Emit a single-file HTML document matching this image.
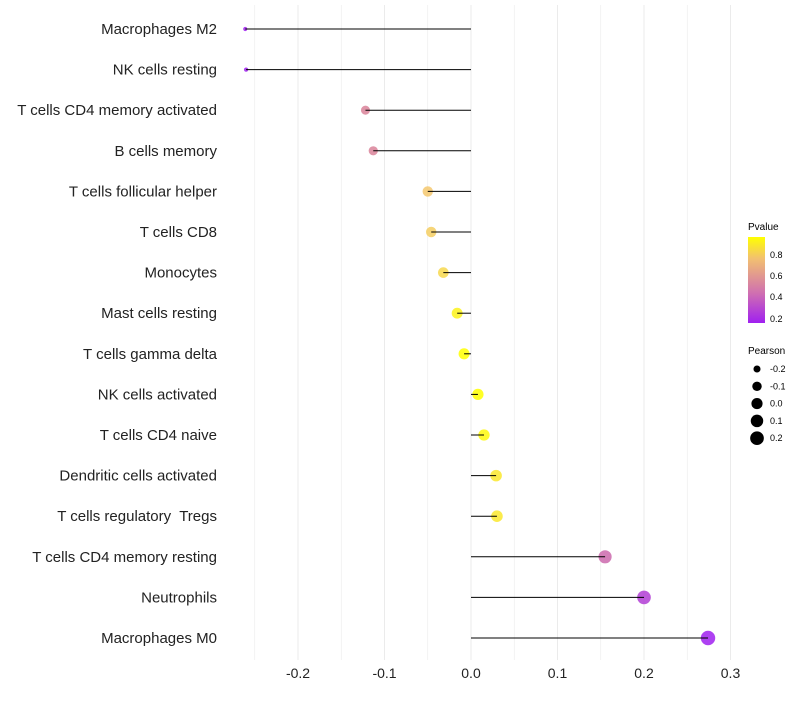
<!DOCTYPE html>
<html><head><meta charset="utf-8"><style>
body{margin:0;background:#fff;font-family:"Liberation Sans",sans-serif}
</style></head><body>
<svg id="chart" width="800" height="700" xmlns="http://www.w3.org/2000/svg">
<defs><linearGradient id="pg" x1="0" y1="1" x2="0" y2="0">
<stop offset="0" stop-color="#a020f0"/><stop offset="0.35" stop-color="#d070b0"/><stop offset="0.75" stop-color="#f2c070"/><stop offset="1" stop-color="#ffff00"/>
</linearGradient></defs>
<g id="grid"></g><g id="marks"></g><g id="labels"></g>
<g id="legend" font-size="10">
<text x="748" y="230">Pvalue</text>
<rect x="748" y="237" width="17" height="86" fill="url(#pg)"/>
<text x="770" y="258" font-size="9">0.8</text>
<text x="770" y="279" font-size="9">0.6</text>
<text x="770" y="300" font-size="9">0.4</text>
<text x="770" y="322" font-size="9">0.2</text>
<text x="748" y="354">Pearson</text>
</g>
</svg>
<script>
const categories=["Macrophages M2","NK cells resting","T cells CD4 memory activated","B cells memory","T cells follicular helper","T cells CD8","Monocytes","Mast cells resting","T cells gamma delta","NK cells activated","T cells CD4 naive","Dendritic cells activated","T cells regulatory\u00a0 Tregs","T cells CD4 memory resting","Neutrophils","Macrophages M0"];
const pearson=[-0.261,-0.260,-0.122,-0.113,-0.050,-0.046,-0.032,-0.016,-0.008,0.008,0.015,0.029,0.030,0.155,0.200,0.274];
const pvalues=[0.15,0.15,0.5,0.5,0.8,0.82,0.85,0.93,0.97,0.97,0.95,0.9,0.9,0.4,0.25,0.12];
const xTicks=[-0.2,-0.1,0.0,0.1,0.2,0.3];
const legendVals=[-0.2,-0.1,0.0,0.1,0.2];
const NS="http://www.w3.org/2000/svg";
const x=v=>471+v*865;
const y=i=>29+i*40.6;
const rad=v=>Math.sqrt(4+48*Math.pow((v+0.262)/0.536,0.8));
function col(p){const st=[[0.15,[160,32,240]],[0.45,[212,120,160]],[0.8,[244,200,110]],[0.97,[255,255,0]]];
 if(p<=st[0][0])return`rgb(${st[0][1]})`;for(let k=1;k<st.length;k++){if(p<=st[k][0]){const t=(p-st[k-1][0])/(st[k][0]-st[k-1][0]);const c=st[k-1][1].map((a,j)=>Math.round(a+(st[k][1][j]-a)*t));return`rgb(${c})`}}return`rgb(${st[3][1]})`}
function mk(t,a,par){const e=document.createElementNS(NS,t);for(const k in a)e.setAttribute(k,a[k]);document.getElementById(par).appendChild(e);return e}
for(let v=-0.25;v<=0.31;v+=0.05){const g=mk("line",{x1:x(v),x2:x(v),y1:5,y2:660,stroke:"#ebebeb","stroke-width":Math.abs(Math.round(v*20))%2===0?1:0.6},"grid");

}
xTicks.forEach(t=>{const e=mk("text",{x:x(t),y:678,"text-anchor":"middle","font-size":14,fill:"#222"},"labels");e.textContent=t.toFixed(1);

});
categories.forEach((c,i)=>{
 const p=mk("circle",{cx:x(pearson[i]),cy:y(i),r:rad(pearson[i]),fill:col(pvalues[i]),"fill-opacity":0.85},"marks");
 
 
 const l=mk("line",{x1:x(0),x2:x(pearson[i]),y1:y(i),y2:y(i),stroke:"#000","stroke-width":1},"marks");
 
 
 const t=mk("text",{x:217,y:y(i)+5,"text-anchor":"end","font-size":15,fill:"#222"},"labels");t.textContent=c;
 
 
});
legendVals.forEach((v,k)=>{const cy=369+k*17.3;
 const c=mk("circle",{cx:757,cy:cy,r:rad(v),fill:"#000"},"legend");
 
 
 const t=mk("text",{x:770,y:cy+3,"font-size":9},"legend");t.textContent=v.toFixed(1);
 
 
});
</script>
</body></html>
